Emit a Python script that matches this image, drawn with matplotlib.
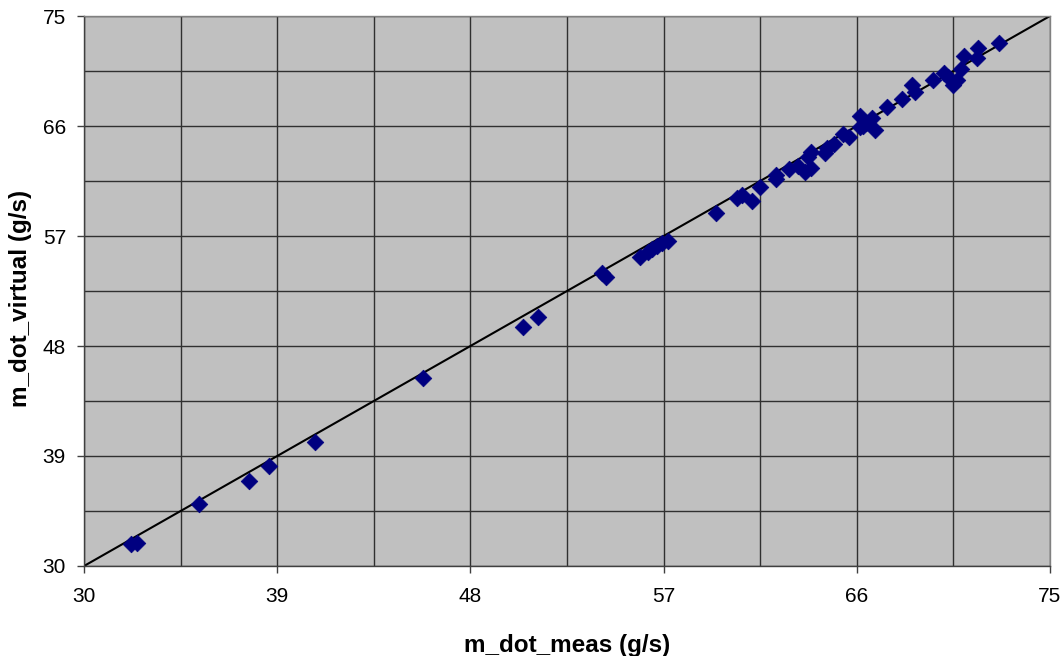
import matplotlib
matplotlib.use("Agg")
import matplotlib.pyplot as plt
import numpy as np

# measured vs virtual-sensor mass flow (g/s)
m_dot_meas = [32.19, 32.47, 35.35, 37.68, 38.61, 40.75, 45.78, 50.44, 51.14, 54.12,
              54.30, 55.88, 56.26, 56.44, 56.68, 56.91, 57.19, 59.42, 60.40, 60.63,
              61.10, 61.47, 62.26, 62.26, 62.82, 63.24, 63.61, 63.89, 63.71, 63.89,
              64.50, 64.59, 64.92, 65.38, 65.66, 66.13, 66.13, 66.27, 66.45, 66.73,
              66.87, 67.43, 68.13, 68.55, 68.69, 69.53, 70.08, 70.27, 70.46, 70.69,
              70.87, 71.01, 71.62, 71.67, 72.64]
m_dot_virtual = [31.80, 31.88, 35.07, 36.96, 38.18, 40.15, 45.38, 49.56, 50.38, 53.98,
                 53.65, 55.29, 55.70, 55.94, 56.19, 56.43, 56.59, 58.89, 60.11, 60.36,
                 59.87, 61.01, 61.67, 62.00, 62.49, 62.73, 62.24, 62.57, 63.47, 63.88,
                 63.80, 64.21, 64.53, 65.35, 65.11, 66.83, 65.93, 66.01, 66.25, 66.66,
                 65.68, 67.56, 68.22, 69.36, 68.79, 69.77, 70.34, 70.02, 69.36, 69.77,
                 70.67, 71.73, 71.57, 72.39, 72.80]

axis_min, axis_max = 30, 75
major_ticks = [30, 39, 48, 57, 66, 75]
minor_step = 4.5

plt.rcParams['font.family'] = ['Liberation Sans', 'DejaVu Sans']

fig = plt.figure(figsize=(10.61, 6.56), dpi=100)
ax = fig.add_axes([0.0792, 0.1372, 0.9104, 0.8384])
ax.set_facecolor('#C0C0C0')

ax.set_xlim(axis_min, axis_max)
ax.set_ylim(axis_min, axis_max)
ax.set_xticks(major_ticks)
ax.set_yticks(major_ticks)
minor = np.arange(axis_min, axis_max + 0.01, minor_step)
ax.set_xticks(minor, minor=True)
ax.set_yticks(minor, minor=True)
ax.grid(True, which='both', color='#303030', linewidth=1.0)
ax.set_axisbelow(True)

ax.tick_params(axis='both', which='major', labelsize=15, length=5,
               width=1, color='#404040', direction='out')
ax.tick_params(axis='x', which='major', pad=10)
ax.tick_params(axis='y', which='major', pad=8)
ax.tick_params(axis='both', which='minor', length=0)

for side in ['left', 'bottom', 'top', 'right']:
    ax.spines[side].set_color('#808080')
    ax.spines[side].set_linewidth(1)
ax.spines['left'].set_color('#404040')
ax.spines['bottom'].set_color('#404040')

# 1:1 reference line
ax.plot([axis_min, axis_max], [axis_min, axis_max], color='black', linewidth=1.5,
        zorder=2)
ax.scatter(m_dot_meas, m_dot_virtual, marker='D', s=72, color='#000080',
           edgecolors='#000080', linewidths=0.5, zorder=3)

ax.set_xlabel('m_dot_meas (g/s)', fontsize=17.5, fontweight='bold')
ax.set_ylabel('m_dot_virtual (g/s)', fontsize=17.5, fontweight='bold')
ax.xaxis.set_label_coords(0.5, -0.123)
ax.yaxis.set_label_coords(-0.054, 0.487)

fig.savefig('out.png', dpi=100)
